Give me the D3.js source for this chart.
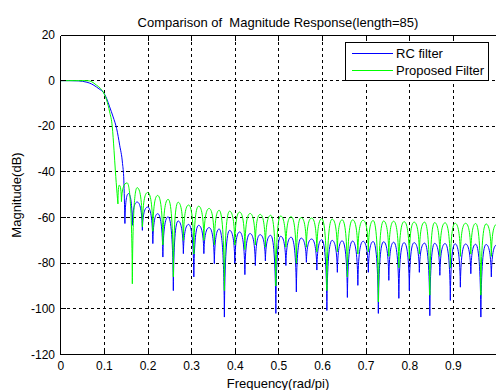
<!DOCTYPE html>
<html><head><meta charset="utf-8">
<script src="https://cdn.jsdelivr.net/npm/d3@7"></script>
<style>
html,body{margin:0;padding:0;background:#fff;}
svg{display:block;}
text{font-family:"Liberation Sans",Arial,Helvetica,sans-serif;fill:#000;white-space:pre;}
</style></head>
<body>
<script>
const titleText = "Comparison of  Magnitude Response(length=85)";
const xLabelText = "Frequency(rad/pi)";
const yLabelText = "Magnitude(dB)";
const seriesNames = ["RC filter", "Proposed Filter"];
const xTicks = [0, 0.1, 0.2, 0.3, 0.4, 0.5, 0.6, 0.7, 0.8, 0.9];
const xTickLabels = ["0", "0.1", "0.2", "0.3", "0.4", "0.5", "0.6", "0.7", "0.8", "0.9"];
const yTicks = [-120, -100, -80, -60, -40, -20, 0, 20];

// RC filter: passband / transition
const rcPassFreq = [0, 0.02, 0.04, 0.05, 0.06, 0.07, 0.082, 0.09, 0.097, 0.105, 0.112, 0.12, 0.128, 0.135, 0.1415, 0.1445, 0.147];
const rcPassDb = [0, 0, -0.1, -0.3, -0.7, -1.4, -2.8, -3.9, -5, -7.8, -11.5, -15.9, -21, -28.3, -36.3, -43.6, -62.6];
// RC filter: stopband lobes (null, peak, null, peak ...)
const rcLobeFreq = [0.147, 0.155, 0.164, 0.175, 0.187, 0.199, 0.211, 0.222, 0.234, 0.246, 0.258, 0.269, 0.281, 0.293, 0.305, 0.316, 0.328, 0.340, 0.352, 0.363, 0.375, 0.387, 0.399, 0.410, 0.422, 0.434, 0.446, 0.457, 0.469, 0.481, 0.493, 0.504, 0.516, 0.528, 0.540, 0.551, 0.563, 0.575, 0.587, 0.598, 0.610, 0.622, 0.634, 0.645, 0.657, 0.669, 0.681, 0.693, 0.705, 0.716, 0.728, 0.740, 0.752, 0.763, 0.775, 0.787, 0.799, 0.810, 0.822, 0.834, 0.846, 0.857, 0.869, 0.881, 0.893, 0.904, 0.916, 0.928, 0.940, 0.951, 0.963, 0.975, 0.987, 0.999];
const rcLobeDb = [-62.6, -49.5, -63.4, -53.2, -65.6, -55.4, -71.4, -58.3, -77.3, -59.7, -92, -61.5, -75.8, -63, -86, -63.4, -75.8, -64.4, -80.2, -65, -103.6, -65.6, -80, -66.3, -85, -67, -81, -67.5, -79, -67.8, -102, -68.2, -81, -68.6, -92.6, -69, -79.6, -69.4, -83, -69.7, -100.7, -70, -84, -70.2, -95, -70.3, -89.7, -70.4, -84, -70.5, -102, -70.6, -87.5, -70.8, -95.4, -71, -92, -71, -84, -71.2, -103, -71.3, -85.3, -71.4, -96.3, -71.5, -90.5, -71.6, -84.6, -71.7, -103.6, -71.8, -86, -72];

// Proposed filter: passband / transition
const propPassFreq = [0, 0.02, 0.04, 0.06, 0.07, 0.082, 0.09, 0.097, 0.105, 0.112, 0.118, 0.122, 0.125, 0.129, 0.131];
const propPassDb = [0, 0, 0, 0, -0.4, -2, -3.2, -4.9, -8.5, -13.7, -20.2, -30.5, -39.2, -49.5, -54];
// Proposed filter: stopband lobes (null, peak, null, peak ...)
const propLobeFreq = [0.131, 0.134, 0.139, 0.152, 0.164, 0.175, 0.187, 0.199, 0.211, 0.222, 0.234, 0.246, 0.258, 0.269, 0.281, 0.293, 0.305, 0.316, 0.328, 0.340, 0.352, 0.363, 0.375, 0.387, 0.399, 0.410, 0.422, 0.434, 0.446, 0.457, 0.469, 0.481, 0.493, 0.504, 0.516, 0.528, 0.540, 0.551, 0.563, 0.575, 0.587, 0.598, 0.610, 0.622, 0.634, 0.645, 0.657, 0.669, 0.681, 0.693, 0.705, 0.716, 0.728, 0.740, 0.752, 0.763, 0.775, 0.787, 0.799, 0.810, 0.822, 0.834, 0.846, 0.857, 0.869, 0.881, 0.893, 0.904, 0.916, 0.928, 0.940, 0.951, 0.963, 0.975, 0.987, 0.999];
const propLobeDb = [-54, -45.8, -53, -44.8, -89, -46.9, -64, -49, -66, -50.3, -72, -52, -86, -53.3, -70, -54.5, -76, -55, -70, -56, -72, -56.8, -92, -57.2, -72, -57.6, -74, -58.2, -72, -58.6, -73, -59, -90, -59.3, -73, -59.6, -80, -60, -73, -60.2, -75, -60.5, -92, -60.7, -75, -61, -86, -61, -76, -61.2, -75, -61.3, -97, -61.5, -77, -61.6, -82, -61.8, -78, -62, -76, -62, -94, -62.2, -77, -62.3, -82, -62.5, -77, -62.5, -76, -62.6, -94, -62.8, -77, -63];

const W = 496, H = 390;
const x = d3.scaleLinear().domain([0, 1]).range([60.8, 497]);
const y = d3.scaleLinear().domain([-120, 20]).range([354.5, 35]);
const snap = v => Math.floor(v) + 0.5;

const svg = d3.select("body").append("svg").attr("width", W).attr("height", H);
svg.append("rect").attr("width", W).attr("height", H).attr("fill", "#fff");

const axL = 60.5, axR = 497.5, axT = 35.5, axB = 354.5;

// grid
const grid = svg.append("g").attr("stroke", "#000").attr("stroke-width", 1).attr("stroke-dasharray", "3,3").attr("shape-rendering", "crispEdges");
xTicks.filter(t => t > 0).forEach(t => {
  grid.append("line").attr("x1", snap(x(t))).attr("x2", snap(x(t))).attr("y1", axT).attr("y2", axB);
});
yTicks.filter(t => t > -120 && t < 20).forEach(t => {
  grid.append("line").attr("x1", axL).attr("x2", axR).attr("y1", snap(y(t))).attr("y2", snap(y(t)));
});

// data
svg.append("clipPath").attr("id", "pc").append("rect")
  .attr("x", 61).attr("y", 35).attr("width", 437).attr("height", 320);

function passPath(fs, ds) {
  return d3.line().curve(d3.curveMonotoneX)
    .x((d, i) => x(fs[i])).y((d, i) => y(ds[i]))(fs);
}
function lobePath(fs, ds) {
  const p = d3.path();
  let x0 = x(fs[0]), y0 = y(ds[0]);
  p.moveTo(x0, y0);
  for (let i = 1; i < fs.length; i += 2) {
    const xp = x(fs[i]), yp = y(ds[i]);
    const dx = xp - x0;
    p.bezierCurveTo(x0 + 0.08 * dx, y0 + 0.7 * (yp - y0), x0 + 0.45 * dx, yp, xp, yp);
    if (i + 1 < fs.length) {
      const x2 = x(fs[i + 1]), y2 = y(ds[i + 1]);
      const dx2 = x2 - xp;
      p.bezierCurveTo(xp + 0.55 * dx2, yp, x2 - 0.08 * dx2, y2 + 0.7 * (yp - y2), x2, y2);
      x0 = x2; y0 = y2;
    }
  }
  return p.toString();
}

const plot = svg.append("g").attr("clip-path", "url(#pc)").attr("fill", "none").attr("stroke-width", 1);
plot.append("path").attr("d", passPath(rcPassFreq, rcPassDb) + lobePath(rcLobeFreq, rcLobeDb)).attr("stroke", "#0000ff");
plot.append("path").attr("d", passPath(propPassFreq, propPassDb) + lobePath(propLobeFreq, propLobeDb)).attr("stroke", "#00ff00");

// frame and ticks
const frame = svg.append("g").attr("stroke", "#000").attr("stroke-width", 1).attr("shape-rendering", "crispEdges").attr("fill", "none");
frame.append("line").attr("x1", axL).attr("x2", axL).attr("y1", axT).attr("y2", axB);
frame.append("line").attr("x1", axL).attr("x2", axR).attr("y1", axB).attr("y2", axB);
frame.append("line").attr("x1", axL).attr("x2", axR).attr("y1", axT).attr("y2", axT);
xTicks.forEach(t => {
  const xx = snap(x(t));
  frame.append("line").attr("x1", xx).attr("x2", xx).attr("y1", axB).attr("y2", axB - 5);
  frame.append("line").attr("x1", xx).attr("x2", xx).attr("y1", axT).attr("y2", axT + 5);
});
yTicks.forEach(t => {
  const yy = snap(y(t));
  frame.append("line").attr("x1", axL).attr("x2", axL + 5).attr("y1", yy).attr("y2", yy);
});

// tick labels
const tl = svg.append("g").attr("font-size", "12px");
xTicks.forEach((t, i) => {
  tl.append("text").attr("x", x(t)).attr("y", 370).attr("text-anchor", "middle").text(xTickLabels[i]);
});
yTicks.forEach(t => {
  tl.append("text").attr("x", 55).attr("y", y(t)).attr("dy", "0.35em").attr("text-anchor", "end").text(t);
});

// title and labels
svg.append("text").attr("x", 278).attr("y", 26.5).attr("text-anchor", "middle").attr("font-size", "13px")
  .attr("xml:space", "preserve").style("white-space", "pre").text(titleText);
svg.append("text").attr("x", 278).attr("y", 388).attr("text-anchor", "middle").attr("font-size", "13px").text(xLabelText);
svg.append("text").attr("transform", "translate(21,195) rotate(-90)").attr("text-anchor", "middle").attr("font-size", "13px").text(yLabelText);

// legend
const lg = svg.append("g");
lg.append("rect").attr("x", 345.5).attr("y", 42.5).attr("width", 143).attr("height", 38)
  .attr("fill", "#fff").attr("stroke", "#000").attr("shape-rendering", "crispEdges");
const legendColors = ["#0000ff", "#00ff00"];
const legendY = [53.5, 70.5];
seriesNames.forEach((n, i) => {
  lg.append("line").attr("x1", 352).attr("x2", 393).attr("y1", legendY[i]).attr("y2", legendY[i])
    .attr("stroke", legendColors[i]).attr("stroke-width", 1);
  lg.append("text").attr("x", 396).attr("y", legendY[i] + 4.5).attr("font-size", "13px").text(n);
});
</script>
</body></html>
